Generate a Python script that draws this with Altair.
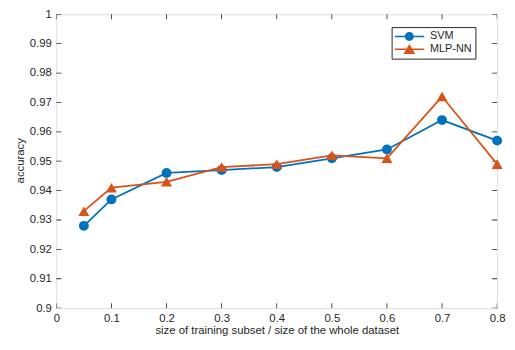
import altair as alt
import pandas as pd

# ---- data ----
train_frac = [0.05, 0.1, 0.2, 0.3, 0.4, 0.5, 0.6, 0.7, 0.8]
svm_acc = [0.928, 0.937, 0.946, 0.947, 0.948, 0.951, 0.954, 0.964, 0.957]
mlp_acc = [0.933, 0.941, 0.943, 0.948, 0.949, 0.952, 0.951, 0.972, 0.949]
series_names = ["SVM", "MLP-NN"]
series_colors = ["#0072BD", "#D95319"]
x_ticks = [0, 0.1, 0.2, 0.3, 0.4, 0.5, 0.6, 0.7, 0.8]
y_ticks = [0.9, 0.91, 0.92, 0.93, 0.94, 0.95, 0.96, 0.97, 0.98, 0.99, 1.0]
x_title = "size of training subset / size of the whole dataset"
y_title = "accuracy"

FONT = "Liberation Sans"
INK = "#262626"

svm_df = pd.DataFrame({"x": train_frac, "y": svm_acc, "series": series_names[0]})
mlp_df = pd.DataFrame({"x": train_frac, "y": mlp_acc, "series": series_names[1]})
all_df = pd.concat([svm_df, mlp_df], ignore_index=True)

xt_df = pd.DataFrame([{"x": v, "y": e} for v in x_ticks for e in (y_ticks[0], y_ticks[-1])])
yt_df = pd.DataFrame([{"x": e, "y": v} for v in y_ticks for e in (x_ticks[0], x_ticks[-1])])

xs = alt.Scale(domain=[x_ticks[0], x_ticks[-1]], nice=False, zero=False)
ys = alt.Scale(domain=[y_ticks[0], y_ticks[-1]], nice=False, zero=False)

x_axis = alt.Axis(values=x_ticks, format="~g", title=x_title, grid=False, domain=False,
                  ticks=False, tickSize=0, labelFlush=False, labelOverlap=False,
                  labelFont=FONT, labelFontSize=11.5, labelColor=INK, labelPadding=5,
                  titleFont=FONT, titleFontSize=11.5, titleColor=INK, titleFontWeight="normal",
                  titleBaseline="top", titleY=17)
y_axis = alt.Axis(values=y_ticks, format="~g", title=y_title, grid=False, domain=False,
                  ticks=False, tickSize=0, labelFlush=False, labelOverlap=False,
                  labelFont=FONT, labelFontSize=11.5, labelColor=INK, labelPadding=5,
                  titleFont=FONT, titleFontSize=11.5, titleColor=INK, titleFontWeight="normal",
                  titleBaseline="alphabetic", titleX=-33, titleY=148)

X = alt.X("x:Q", scale=xs, axis=x_axis)
Y = alt.Y("y:Q", scale=ys, axis=y_axis)

xticks_layer = alt.Chart(xt_df).mark_tick(orient="vertical", size=10, thickness=0.8,
                                          clip=True, color=INK, opacity=1).encode(x=X, y=Y)
yticks_layer = alt.Chart(yt_df).mark_tick(orient="horizontal", size=10, thickness=0.8,
                                          clip=True, color=INK, opacity=1).encode(x=X, y=Y)

def series_layers(df, color, shape, size):
    line = alt.Chart(df).mark_line(color=color, strokeWidth=1.8).encode(x=X, y=Y)
    pts = alt.Chart(df).mark_point(filled=True, shape=shape, size=size, color=color,
                                   opacity=1, strokeWidth=0).encode(x=X, y=Y)
    return [line, pts]

legend_paths = [
    "M-1,-0.055H1V0.055H-1Z M0.3,0A0.3,0.3,0,1,1,-0.3,0A0.3,0.3,0,1,1,0.3,0Z",
    "M-1,-0.055H1V0.055H-1Z M0,-0.36L0.4,0.32L-0.4,0.32Z",
]
legend_cfg = alt.Legend(title=None, orient="none", legendX=340, legendY=13,
                        padding=3, strokeColor=INK, fillColor="white",
                        labelFont=FONT, labelFontSize=11, labelColor=INK,
                        labelOffset=6, clipHeight=13, rowPadding=0,
                        symbolSize=900, symbolStrokeWidth=0, symbolOpacity=1)
legend_layer = alt.Chart(all_df).transform_filter("false").mark_point(
    filled=True, size=900, opacity=1, strokeWidth=0).encode(
    x=X, y=Y,
    color=alt.Color("series:N", scale=alt.Scale(domain=series_names, range=series_colors),
                    legend=legend_cfg),
    shape=alt.Shape("series:N", scale=alt.Scale(domain=series_names, range=legend_paths),
                    legend=legend_cfg),
)

layers = [xticks_layer, yticks_layer]
layers += series_layers(svm_df, series_colors[0], "circle", 100)
layers += series_layers(mlp_df, series_colors[1], "triangle-up", 125)
layers.append(legend_layer)

chart = alt.layer(*layers).properties(
    width=447, height=298,
    autosize=alt.AutoSizeParams(type="none"),
    padding={"left": 49, "top": 4, "right": 10, "bottom": 34},
).configure_view(stroke=INK, strokeWidth=1).configure(background="white")

chart.save("out.html", embed_options={"renderer": "svg", "actions": False})
